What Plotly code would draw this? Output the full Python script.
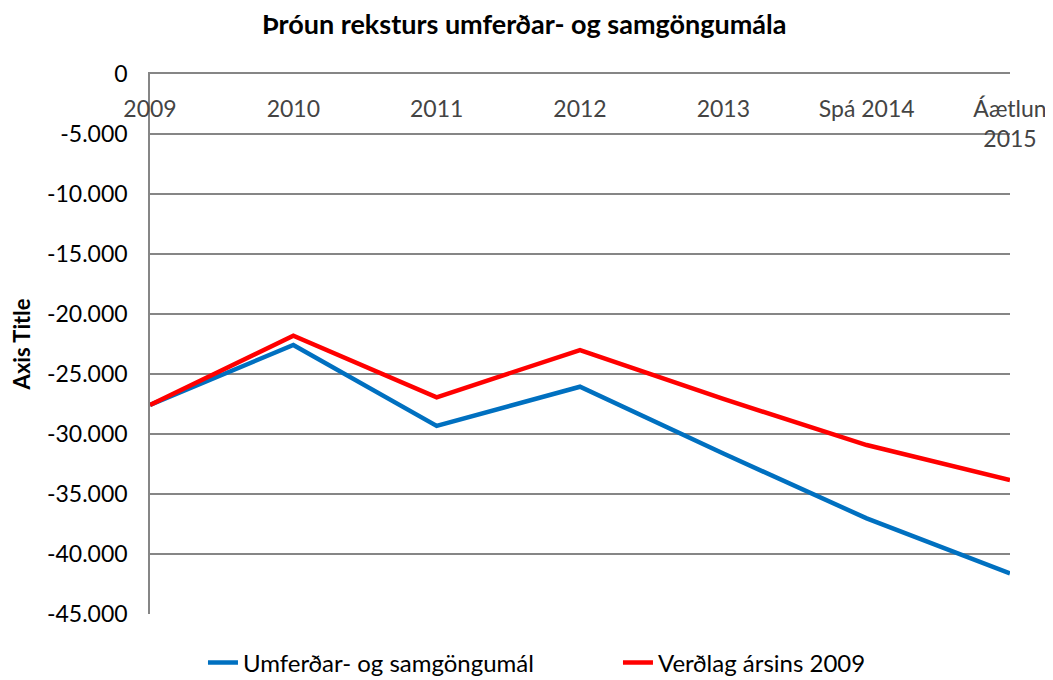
import plotly.graph_objects as go

categories = ["2009", "2010", "2011", "2012", "2013", "Spá 2014", "Áætlun<br>2015"]
umferd = [-27580, -22580, -29330, -26060, -31630, -37030, -41610]
verdlag = [-27580, -21810, -26940, -23000, -27080, -30920, -33830]
y_ticks = [0, -5000, -10000, -15000, -20000, -25000, -30000, -35000, -40000, -45000]
y_tick_labels = ["0", "-5.000", "-10.000", "-15.000", "-20.000", "-25.000",
                 "-30.000", "-35.000", "-40.000", "-45.000"]

FONT = "Lato, Carlito, Calibri, sans-serif"
xs = list(range(len(categories)))

fig = go.Figure()
fig.add_trace(go.Scatter(x=xs, y=umferd, mode="lines", name="Umferðar- og samgöngumál",
                         line=dict(color="#0070C0", width=4.5)))
fig.add_trace(go.Scatter(x=xs, y=verdlag, mode="lines", name="Verðlag ársins 2009",
                         line=dict(color="#FF0000", width=4.5)))

# page has an 8px body margin, so the figure is drawn 8px in from the top-left
fig.update_layout(
    width=1045, height=672,
    margin=dict(l=142, r=43, t=66, b=66, autoexpand=False),
    paper_bgcolor="white", plot_bgcolor="white",
    font=dict(family=FONT, size=23, color="black"),
    title=dict(text="<b>Þróun reksturs umferðar- og samgöngumála</b>",
               x=0.494, xanchor="center", y=0.9747, yanchor="middle",
               font=dict(family=FONT, size=27, color="black")),
    showlegend=True,
    legend=dict(orientation="h", x=0.0616, xanchor="left", y=-0.0907, yanchor="middle",
                font=dict(family=FONT, size=24), entrywidth=370, entrywidthmode="pixels",
                tracegroupgap=0),
    xaxis=dict(
        side="top", ticklabelposition="inside", ticklabeloverflow="allow",
        tickmode="array", tickvals=xs, ticktext=categories, automargin=False,
        range=[0, len(categories) - 1], showgrid=False, zeroline=False,
        showline=True, linecolor="#868686", linewidth=1.5, ticks="",
        tickfont=dict(family=FONT, size=23), ticklabelstandoff=29,
    ),
    yaxis=dict(
        range=[-45000, 0], tickmode="array", tickvals=y_ticks, ticktext=y_tick_labels,
        automargin=False,
        showgrid=True, gridcolor="#868686", gridwidth=1.5, zeroline=False,
        showline=True, linecolor="#868686", linewidth=1.5, ticks="",
        tickfont=dict(family=FONT, size=23), ticklabelstandoff=16,
        title=dict(text="<b>Axis Title</b>", font=dict(family=FONT, size=22), standoff=14),
    ),
)

fig.write_html("out.html")
